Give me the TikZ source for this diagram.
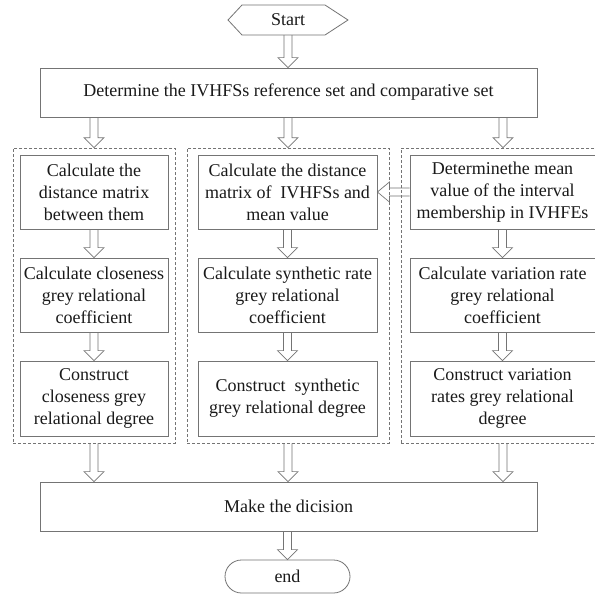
\documentclass[tikz,border=0pt]{standalone}
\usepackage{fontspec}
\setmainfont{Liberation Serif}
\usetikzlibrary{calc}
\definecolor{ln}{HTML}{747474}
\definecolor{tx}{HTML}{1A1A1A}
\tikzset{
  boxline/.style={draw=ln, line width=0.8pt},
  stepbox/.style={boxline, rectangle, inner sep=0pt, text=tx, align=center,
    font=\fontsize{18}{22}\selectfont},
  groupbox/.style={draw=ln, line width=0.7pt, dash pattern=on 3pt off 2pt, rectangle, inner sep=0pt},
  arr/.style={draw=ln, line width=0.7pt, line join=miter},
}
\newcommand\vhollow[2]{\draw[arr] let \p1=#1, \p2=#2 in
  (\x1-4pt,\y1) -- (\x1-4pt,\y2+10pt) -- (\x1-10pt,\y2+10pt) -- (\x1,\y2)
  -- (\x1+10pt,\y2+10pt) -- (\x1+4pt,\y2+10pt) -- (\x1+4pt,\y1);}
\newcommand\hhollow[2]{\draw[arr] let \p1=#1, \p2=#2 in
  (\x1,\y1+4pt) -- (\x2+12pt,\y1+4pt) -- (\x2+12pt,\y1+10pt) -- (\x2,\y1)
  -- (\x2+12pt,\y1-10pt) -- (\x2+12pt,\y1-4pt) -- (\x1,\y1-4pt);}
\begin{document}
\begin{tikzpicture}[x=1pt,y=-1pt]
\clip (0,0) rectangle (595,595);
\fill[white] (0,0) rectangle (595,595);
% start
\node[text=tx, font=\fontsize{18}{22}\selectfont, inner sep=0pt, minimum width=120pt, minimum height=30pt] (start) at (288,20) {Start};
\draw[boxline] (228,20) -- (242,5) -- (325,5) -- (348,20) -- (325,35) -- (242,35) -- cycle;
% top box
\node[stepbox, minimum width=497pt, minimum height=49pt] (top) at (288.5,92.5) {Determine the IVHFSs reference set and comparative set};
% group boxes
\node[groupbox, minimum width=162pt, minimum height=295pt] (ld) at (94,295.5) {};
\node[groupbox, minimum width=202pt, minimum height=295pt] (md) at (288,295.5) {};
\node[groupbox, minimum width=204pt, minimum height=295pt] (rd) at (503,295.5) {};
% left column
\node[stepbox, minimum width=148pt, minimum height=74pt] (l1) at (94,192) {Calculate the\\distance matrix\\between them};
\node[stepbox, minimum width=148pt, minimum height=74pt] (l2) at (94,295) {Calculate closeness\\grey relational\\coefficient};
\node[stepbox, minimum width=148pt, minimum height=75pt] (l3) at (94,398.5) {Construct\\closeness grey\\relational degree};
% middle column
\node[stepbox, minimum width=179pt, minimum height=74pt] (m1) at (287.5,192) {Calculate the distance\\matrix of\ \ IVHFSs and\\mean value};
\node[stepbox, minimum width=179pt, minimum height=74pt] (m2) at (287.5,295) {Calculate synthetic rate\\grey relational\\coefficient};
\node[stepbox, minimum width=179pt, minimum height=75pt] (m3) at (287.5,398.5) {Construct\ \ synthetic\\grey relational degree};
% right column
\node[stepbox, minimum width=185pt, minimum height=74pt] (r1) at (502.5,192) {Determinethe mean\\value of the interval\\membership in IVHFEs};
\node[stepbox, minimum width=185pt, minimum height=74pt] (r2) at (502.5,295) {Calculate variation rate\\grey relational\\coefficient};
\node[stepbox, minimum width=185pt, minimum height=75pt] (r3) at (502.5,398.5) {Construct variation\\rates grey relational\\degree};
% bottom
\node[stepbox, minimum width=497pt, minimum height=49pt] (dec) at (288.5,506.5) {Make the dicision};
\node[stepbox, minimum width=125pt, minimum height=33pt, rounded corners=16.5pt] (end) at (287.5,576.5) {end};
% arrows
\vhollow{(start.south)}{(top.north -| start.south)}
\vhollow{(top.south -| ld.north)}{(ld.north)}
\vhollow{(top.south -| md.north)}{(md.north)}
\vhollow{(top.south -| rd.north)}{(rd.north)}
\vhollow{(l1.south)}{(l2.north)}
\vhollow{(l2.south)}{(l3.north)}
\vhollow{(m1.south)}{(m2.north)}
\vhollow{(m2.south)}{(m3.north)}
\vhollow{(r1.south)}{(r2.north)}
\vhollow{(r2.south)}{(r3.north)}
\hhollow{(r1.west)}{(m1.east)}
\vhollow{(ld.south)}{(dec.north -| ld.south)}
\vhollow{(md.south)}{(dec.north -| md.south)}
\vhollow{(rd.south)}{(dec.north -| rd.south)}
\vhollow{(dec.south -| end.north)}{(end.north)}
\end{tikzpicture}
\end{document}
